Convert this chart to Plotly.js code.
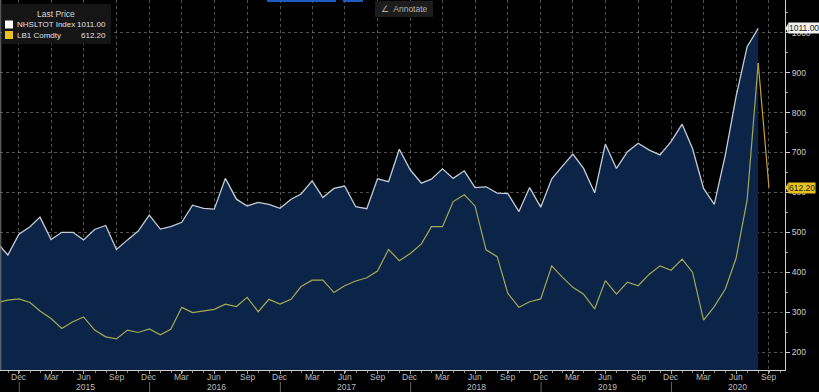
<!DOCTYPE html>
<html>
<head>
<meta charset="utf-8">
<script src="https://cdn.plot.ly/plotly-3.0.1.min.js"></script>
<style>
  html, body { margin: 0; padding: 0; background: #000; }
  #chart { width: 819px; height: 392px; }
</style>
</head>
<body>
<div id="chart"></div>
<script>
// Monthly categories (month-end observations)
const months = [
  '2014-10','2014-11','2014-12',
  '2015-01','2015-02','2015-03','2015-04','2015-05','2015-06','2015-07','2015-08','2015-09','2015-10','2015-11','2015-12',
  '2016-01','2016-02','2016-03','2016-04','2016-05','2016-06','2016-07','2016-08','2016-09','2016-10','2016-11','2016-12',
  '2017-01','2017-02','2017-03','2017-04','2017-05','2017-06','2017-07','2017-08','2017-09','2017-10','2017-11','2017-12',
  '2018-01','2018-02','2018-03','2018-04','2018-05','2018-06','2018-07','2018-08','2018-09','2018-10','2018-11','2018-12',
  '2019-01','2019-02','2019-03','2019-04','2019-05','2019-06','2019-07','2019-08','2019-09','2019-10','2019-11','2019-12',
  '2020-01','2020-02','2020-03','2020-04','2020-05','2020-06','2020-07','2020-08','2020-09'
];

// NHSLTOT Index (new home sales, thousands) Oct 2014 – Aug 2020
const nhsltot = [
  474, 443, 495,
  514, 538, 482, 500, 500, 481, 507, 517, 457, 481, 503, 543,
  508, 514, 525, 568, 560, 558, 635, 583, 566, 575, 570, 560,
  583, 596, 629, 587, 610, 616, 564, 559, 634, 627, 708, 656,
  623, 633, 659, 635, 654, 612, 614, 598, 597, 552, 612, 563,
  634, 664, 696, 660, 599, 721, 660, 702, 723, 706, 694, 727,
  771, 710, 610, 570, 694, 840, 965, 1011
];

// LB1 Comdty (lumber futures) Oct 2014 – Sep 2020
const lb1 = [
  324, 330, 333,
  324, 303, 284, 259, 276, 288, 255, 238, 233, 255, 249, 258,
  243, 257, 312, 299, 304, 307, 320, 314, 337, 301, 332, 320,
  332, 364, 380, 380, 349, 366, 378, 386, 403, 457, 429, 447,
  471, 514, 514, 577, 594, 566, 456, 439, 347, 312, 326, 333,
  416, 389, 362, 345, 308, 379, 345, 375, 366, 395, 416, 405,
  433, 400, 280, 314, 358, 435, 581, 924, 612.2
];

const seriesNames = ['NHSLTOT Index', 'LB1 Comdty'];
const lastValues = ['1011.00', '612.20'];

const monthAbbr = ['Jan','Feb','Mar','Apr','May','Jun','Jul','Aug','Sep','Oct','Nov','Dec'];
const yearLabels = ['2015','2016','2017','2018','2019','2020'];

// month-end date for a 'YYYY-MM' category
function monthEnd(m) {
  const [y, mo] = m.split('-').map(Number);
  const d = new Date(Date.UTC(y, mo, 0));
  return d.toISOString().slice(0, 10);
}
const dates = months.map(monthEnd);

// quarterly ticks (Dec, Mar, Jun, Sep)
const tickvals = [], ticktext = [];
months.forEach((m, i) => {
  const mo = Number(m.split('-')[1]);
  if (mo % 3 === 0) { tickvals.push(dates[i]); ticktext.push(monthAbbr[mo - 1]); }
});

const W = 785, H = 370; // plot area in px
const YR = [155, 1082];
const px = x => x / W;
const py = y => 1 - y / H;
const FONT = 'Liberation Sans, Arial, sans-serif';

const nhsDates = dates.slice(0, nhsltot.length);
const lbInside = lb1.slice(0, lb1.length - 1);
const lbDatesInside = dates.slice(0, lb1.length - 1);

const traces = [
  {
    x: nhsDates, y: nhsltot, type: 'scatter', mode: 'lines',
    fill: 'tozeroy', fillcolor: '#0b2447',
    line: { color: '#c4ccd6', width: 1.3 },
    hoverinfo: 'skip', name: seriesNames[0]
  },
  {
    x: lbDatesInside, y: lbInside, type: 'scatter', mode: 'lines',
    line: { color: '#a3aa56', width: 1.2 },
    hoverinfo: 'skip', name: seriesNames[1]
  },
  {
    x: dates.slice(lb1.length - 2), y: lb1.slice(lb1.length - 2), type: 'scatter', mode: 'lines',
    line: { color: '#c99f3a', width: 1.2 },
    hoverinfo: 'skip', name: seriesNames[1]
  }
];

const annotations = [];
// month tick labels
tickvals.forEach((tv, i) => {
  annotations.push({
    x: tv, xref: 'x', y: -6.5 / H, yref: 'paper',
    text: ticktext[i], showarrow: false, xanchor: 'center', yanchor: 'middle',
    font: { family: FONT, size: 8.5, color: '#bdbdbd' }
  });
});
// year labels
yearLabels.forEach(yr => {
  annotations.push({
    x: yr + '-07-05', xref: 'x', y: -16.5 / H, yref: 'paper',
    text: yr, showarrow: false, xanchor: 'center', yanchor: 'middle',
    font: { family: FONT, size: 8.5, color: '#bdbdbd' }
  });
});
// legend box texts
annotations.push(
  { x: px(56), y: py(14), xref: 'paper', yref: 'paper', text: 'Last Price', showarrow: false,
    xanchor: 'center', yanchor: 'middle', font: { family: FONT, size: 8.5, color: '#d8d8d8' } },
  { x: px(14.5), y: py(24.5), xref: 'paper', yref: 'paper', text: seriesNames[0], showarrow: false,
    xanchor: 'left', yanchor: 'middle', font: { family: FONT, size: 8, color: '#e0e0e0' } },
  { x: px(108), y: py(24.5), xref: 'paper', yref: 'paper', text: lastValues[0], showarrow: false,
    xanchor: 'right', yanchor: 'middle', font: { family: FONT, size: 8, color: '#e0e0e0' } },
  { x: px(14.5), y: py(35), xref: 'paper', yref: 'paper', text: seriesNames[1], showarrow: false,
    xanchor: 'left', yanchor: 'middle', font: { family: FONT, size: 8, color: '#e0e0e0' } },
  { x: px(108), y: py(35), xref: 'paper', yref: 'paper', text: lastValues[1], showarrow: false,
    xanchor: 'right', yanchor: 'middle', font: { family: FONT, size: 8, color: '#e0e0e0' } },
  // Annotate button
  { x: px(404), y: py(9), xref: 'paper', yref: 'paper', text: '∠  Annotate', showarrow: false,
    xanchor: 'center', yanchor: 'middle', font: { family: FONT, size: 8.5, color: '#b0b0b0' } },
  // last value tags on the right axis
  { x: 1, xref: 'paper', xshift: 3, y: nhsltot[nhsltot.length - 1], yref: 'y', text: lastValues[0], showarrow: false,
    xanchor: 'left', yanchor: 'middle', bgcolor: '#f2f2f2', borderpad: 0,
    font: { family: FONT, size: 8.5, color: '#222' } },
  { x: 1, xref: 'paper', xshift: 3, y: lb1[lb1.length - 1], yref: 'y', text: lastValues[1], showarrow: false,
    xanchor: 'left', yanchor: 'middle', bgcolor: '#e8c21e', borderpad: 0,
    font: { family: FONT, size: 8.5, color: '#222' } }
);

const shapes = [
  // legend background
  { type: 'rect', xref: 'paper', yref: 'paper', x0: px(2), x1: px(111), y0: py(4), y1: py(44),
    fillcolor: '#151515', line: { width: 0 }, layer: 'above' },
  { type: 'rect', xref: 'paper', yref: 'paper', x0: px(5), x1: px(13), y0: py(20.5), y1: py(28.5),
    fillcolor: '#ffffff', line: { width: 0 }, layer: 'above' },
  { type: 'rect', xref: 'paper', yref: 'paper', x0: px(5), x1: px(13), y0: py(31), y1: py(39),
    fillcolor: '#e8c21e', line: { width: 0 }, layer: 'above' },
  // Annotate button background
  { type: 'rect', xref: 'paper', yref: 'paper', x0: px(375), x1: px(433), y0: py(1), y1: py(17),
    fillcolor: '#1c1c1c', line: { width: 0 }, layer: 'above' },
  // top blue strips
  { type: 'rect', xref: 'paper', yref: 'paper', x0: px(267), x1: px(336), y0: py(0), y1: py(2),
    fillcolor: '#1f5cc0', line: { width: 0 }, layer: 'above' },
  { type: 'rect', xref: 'paper', yref: 'paper', x0: px(343), x1: px(363), y0: py(0), y1: py(2),
    fillcolor: '#1f5cc0', line: { width: 0 }, layer: 'above' },
  // left border
  { type: 'line', xref: 'paper', yref: 'paper', x0: 0.001, x1: 0.001, y0: 0, y1: 1,
    line: { color: '#7a7a7a', width: 1 } }
];
// pointer tips of the last-value tags
[[nhsltot[nhsltot.length - 1], '#f2f2f2'], [lb1[lb1.length - 1], '#e8c21e']].forEach(([v, c]) => {
  const yc = (v - YR[0]) / (YR[1] - YR[0]);
  const x0 = 1 + 0.5 / W, x1 = 1 + 3.5 / W, dy = 5.5 / H;
  shapes.push({ type: 'path', xref: 'paper', yref: 'paper',
    path: `M ${x1} ${yc + dy} L ${x0} ${yc} L ${x1} ${yc - dy} Z`,
    fillcolor: c, line: { width: 0 }, layer: 'above' });
});
// year separators
yearLabels.forEach(yr => {
  shapes.push({ type: 'line', xref: 'x', yref: 'paper', x0: yr + '-01-01', x1: yr + '-01-01',
    y0: -12 / H, y1: -22 / H, line: { color: '#666', width: 1 } });
});

const layout = {
  width: 819, height: 392,
  margin: { l: 0, r: 34, t: 0, b: 22, pad: 0 },
  paper_bgcolor: '#000', plot_bgcolor: '#000',
  showlegend: false,
  font: { family: FONT, color: '#c8c8c8', size: 9 },
  xaxis: {
    type: 'date', range: ['2014-11-08', '2020-11-14'],
    tickmode: 'array', tickvals: tickvals, ticktext: ticktext, showticklabels: false,
    ticks: 'outside', ticklen: 3, tickcolor: '#aaa',
    showgrid: true, gridcolor: 'rgba(150,150,150,0.55)', griddash: 'dot', gridwidth: 1,
    showline: true, linecolor: '#cfcfcf', linewidth: 1,
    minor: { tick0: '2015-01-01', dtick: 'M1', ticks: 'outside', ticklen: 2, tickcolor: '#888', showgrid: false },
    zeroline: false, fixedrange: true
  },
  yaxis: {
    side: 'right', range: YR,
    tick0: 0, dtick: 100,
    ticks: 'outside', ticklen: 4, tickcolor: '#cfcfcf',
    showgrid: true, gridcolor: 'rgba(150,150,150,0.55)', griddash: 'dot', gridwidth: 1,
    showline: true, linecolor: '#cfcfcf', linewidth: 1,
    tickfont: { size: 8.5, color: '#cfcfcf' },
    minor: { dtick: 50, ticks: 'outside', ticklen: 2, tickcolor: '#aaa', showgrid: false },
    zeroline: false, fixedrange: true
  },
  annotations: annotations,
  shapes: shapes
};

Plotly.newPlot('chart', traces, layout, { displayModeBar: false, staticPlot: true });
</script>
</body>
</html>
